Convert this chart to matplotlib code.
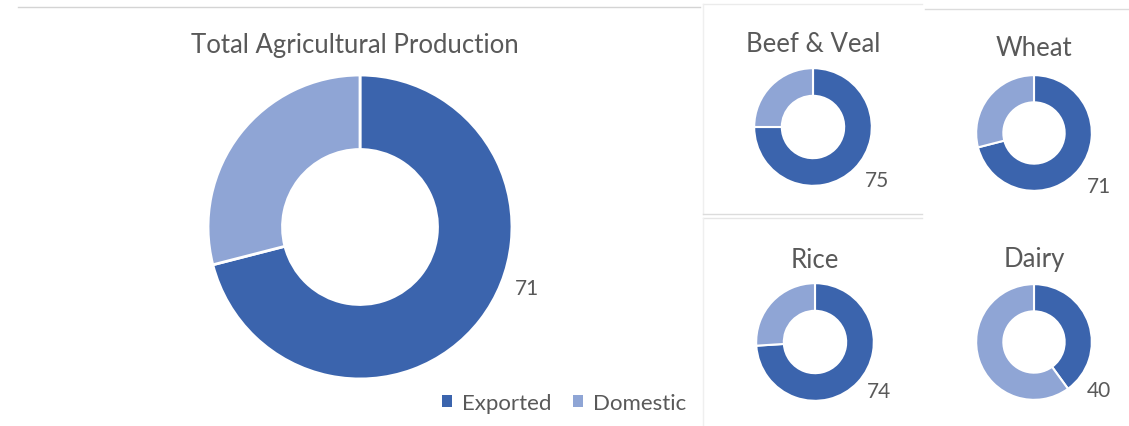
import matplotlib
matplotlib.use("Agg")
import matplotlib.pyplot as plt
from matplotlib.lines import Line2D
from matplotlib.patches import Patch

# ---- data ----
charts = ["Total Agricultural Production", "Beef & Veal", "Wheat", "Rice", "Dairy"]
exported = [71, 75, 71, 74, 40]
domestic = [100 - v for v in exported]
series = ["Exported", "Domestic"]

COL_EXP = "#3B64AD"
COL_DOM = "#8FA5D5"
TXT = "#595959"
FONT = "Lato"

W, H = 1129, 427
fig = plt.figure(figsize=(W / 100, H / 100), dpi=100)
fig.patch.set_facecolor("white")

# layout: (cx, cy, r, hole ratio, title y, title x, label offset in radius units)
layout = [
    (360, 228, 155, 0.51, 46, 355, (1.10, -0.40)),
    (813, 128, 60, 0.53, 44, 813, (1.08, -0.90)),
    (1034, 134, 59, 0.53, 49, 1034, (1.12, -0.92)),
    (815, 343, 60, 0.53, 260, 815, (1.09, -0.83)),
    (1034, 343, 59, 0.53, 260, 1034, (1.13, -0.83)),
]

def px2fig(x, y):
    return x / W, 1 - y / H

for i, name in enumerate(charts):
    cx, cy, r, hole, ty, tx, (lx, ly) = layout[i]
    ax = fig.add_axes([(cx - r) / W, (H - cy - r) / H, 2 * r / W, 2 * r / H])
    ax.pie([exported[i], domestic[i]], colors=[COL_EXP, COL_DOM], startangle=90,
           counterclock=False, radius=1,
           wedgeprops=dict(width=1 - hole, edgecolor="white", linewidth=2 if i == 0 else 1.5))
    ax.set_xlim(-1.02, 1.02)
    ax.set_ylim(-1.02, 1.02)
    ax.set_aspect("equal")
    ax.axis("off")
    ax.text(lx, ly, str(exported[i]), ha="center", va="center", fontsize=15,
            color=TXT, family=FONT, clip_on=False)
    fx, fy = px2fig(tx, ty)
    fig.text(fx, fy, name, ha="center", va="center", fontsize=18.5, color=TXT, family=FONT)

# panel border lines
segs = [
    ((18, 8), (700, 8), "#D4D4D4"),
    ((703, 5), (922, 5), "#EBEBEB"),
    ((703, 5), (703, 215), "#EFEFEF"),
    ((703, 215), (922, 215), "#DCDCDC"),
    ((925, 10), (1129, 10), "#DCDCDC"),
    ((703, 219), (922, 219), "#E6E6E6"),
    ((703, 219), (703, 427), "#EFEFEF"),
]
for (x0, y0), (x1, y1), c in segs:
    a = px2fig(x0, y0)
    b = px2fig(x1, y1)
    fig.add_artist(Line2D([a[0], b[0]], [a[1], b[1]], color=c, lw=1))

# legend
handles = [Patch(facecolor=COL_EXP), Patch(facecolor=COL_DOM)]
leg = fig.legend(handles, series, loc="center", bbox_to_anchor=(564 / W, 1 - 404 / H),
                 ncol=2, frameon=False, handlelength=0.45, handleheight=0.45,
                 handletextpad=0.45, columnspacing=1.0,
                 prop=dict(family=FONT, size=16))
for t in leg.get_texts():
    t.set_color(TXT)

fig.savefig("out.png", dpi=100, facecolor="white")
